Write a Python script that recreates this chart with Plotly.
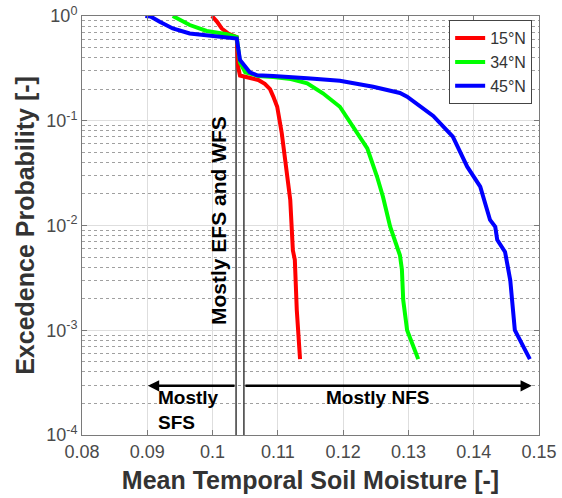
import plotly.graph_objects as go
import numpy as np

# ---- data ----
x_15N = [0.0999, 0.1007, 0.1014, 0.1024, 0.1037, 0.1039, 0.1042, 0.1057, 0.1070, 0.1080,
         0.1088, 0.1093, 0.1099, 0.1106, 0.1111, 0.1114, 0.1119, 0.1123, 0.1126, 0.1129, 0.1134]
p_15N = [1.0, 0.88, 0.76, 0.68, 0.63, 0.33, 0.27, 0.256, 0.245, 0.225,
         0.20, 0.17, 0.136, 0.076, 0.045, 0.0315, 0.0175, 0.0058, 0.0047, 0.00156, 0.00053]

x_34N = [0.0939, 0.0965, 0.0991, 0.1022, 0.1037, 0.1042, 0.1050, 0.1070, 0.1093, 0.1120,
         0.1145, 0.1169, 0.1195, 0.1215, 0.1237, 0.1252, 0.1261, 0.1272, 0.1280, 0.1287,
         0.1290, 0.1292, 0.1298, 0.1315]
p_34N = [1.0, 0.82, 0.72, 0.67, 0.63, 0.36, 0.29, 0.268, 0.262, 0.25,
         0.228, 0.183, 0.136, 0.0877, 0.0545, 0.0292, 0.0188, 0.00975, 0.0068, 0.0052,
         0.0038, 0.00194, 0.001, 0.00053]

x_45N = [0.0897, 0.0905, 0.0919, 0.0939, 0.0965, 0.1001, 0.1037, 0.1042, 0.1057, 0.1068,
         0.1093, 0.1145, 0.1195, 0.1246, 0.1287, 0.1298, 0.1338, 0.1368, 0.1390, 0.1410,
         0.1420, 0.1425, 0.1433, 0.1436, 0.1448, 0.1456, 0.1463, 0.1486]
p_45N = [1.0, 0.99, 0.88, 0.76, 0.68, 0.64, 0.61, 0.38, 0.29, 0.272,
         0.268, 0.254, 0.241, 0.211, 0.184, 0.170, 0.111, 0.0704, 0.0364, 0.0235,
         0.0151, 0.0113, 0.0097, 0.0073, 0.0056, 0.0030, 0.0010, 0.00053]

series_names = ["15°N", "34°N", "45°N"]
series_colors = ["#ff0000", "#00ff00", "#0000ff"]

# threshold lines
thr_x = [0.1036, 0.1048]
thr_top = [0.6, 0.26]

# arrow region bounds
sfs_left = 0.0901
nfs_right = 0.1489
arrow_p = 2.95e-4

x_ticks = [0.08, 0.09, 0.1, 0.11, 0.12, 0.13, 0.14, 0.15]
x_ticktext = ["0.08", "0.09", "0.1", "0.11", "0.12", "0.13", "0.14", "0.15"]
y_ticks = [1e-4, 1e-3, 1e-2, 1e-1, 1]
y_ticktext = ["10<sup>-4</sup>", "10<sup>-3</sup>", "10<sup>-2</sup>", "10<sup>-1</sup>", "10<sup>0</sup>"]

FONT = "Liberation Sans, Arial, Helvetica, sans-serif"

fig = go.Figure()

for tx, tt in zip(thr_x, thr_top):
    fig.add_trace(go.Scatter(x=[tx, tx], y=[tt, 1e-4], mode="lines", showlegend=False,
                             line=dict(color="#3a3a3a", width=1.5), hoverinfo="skip"))

for xs, ps, name, col in zip([x_15N, x_34N, x_45N], [p_15N, p_34N, p_45N], series_names, series_colors):
    fig.add_trace(go.Scatter(x=xs, y=ps, mode="lines", name=name,
                             line=dict(color=col, width=4)))

ly = np.log10(arrow_p)
arrow_style = dict(showarrow=True, arrowhead=2, arrowsize=0.9, arrowwidth=2.5,
                   arrowcolor="black", xref="x", yref="y", axref="x", ayref="y", text="")
annotations = [
    dict(x=sfs_left, y=ly, ax=thr_x[0], ay=ly, **arrow_style),
    dict(x=nfs_right, y=ly, ax=thr_x[1], ay=ly, **arrow_style),
    dict(x=0.0913, y=-3.76, xref="x", yref="y", text="<b>Mostly<br>SFS</b>", showarrow=False,
         xanchor="left", yanchor="middle", align="left",
         font=dict(family=FONT, size=19, color="black")),
    dict(x=0.1252, y=-3.64, xref="x", yref="y", text="<b>Mostly NFS</b>", showarrow=False,
         xanchor="center", yanchor="middle",
         font=dict(family=FONT, size=19, color="black")),
    dict(x=0.1008, y=-1.95, xref="x", yref="y", text="<b>Mostly EFS and WFS</b>", showarrow=False,
         textangle=-90, xanchor="center", yanchor="middle",
         font=dict(family=FONT, size=21, color="black")),
]

shapes = [
    dict(type="line", xref="x", yref="y", x0=sfs_left, x1=sfs_left, y0=ly - 0.05, y1=ly + 0.05,
         line=dict(color="black", width=1.5)),
    dict(type="line", xref="x", yref="y", x0=nfs_right, x1=nfs_right, y0=ly - 0.05, y1=ly + 0.05,
         line=dict(color="black", width=1.5)),
]

axis_common = dict(showline=True, linecolor="#7a7a7a", linewidth=1, mirror="ticks",
                   ticks="inside", ticklen=5, tickcolor="#7a7a7a", automargin=False,
                   gridcolor="#dedede", gridwidth=1, zeroline=False,
                   tickfont=dict(family=FONT, size=18, color="#4a4a4a"))

fig.update_layout(
    width=562, height=498,
    margin=dict(l=82, r=23, t=16, b=63),
    paper_bgcolor="white", plot_bgcolor="white",
    font=dict(family=FONT),
    xaxis=dict(range=[0.08, 0.15], tickvals=x_ticks, ticktext=x_ticktext,
               title=dict(text="<b>Mean Temporal Soil Moisture [-]</b>", standoff=10,
                          font=dict(family=FONT, size=25, color="#333333")),
               **axis_common),
    yaxis=dict(type="log", range=[-4, 0], tickvals=y_ticks, ticktext=y_ticktext,
               title=dict(text="<b>Excedence Probability [-]</b>", standoff=4,
                          font=dict(family=FONT, size=25, color="#333333")),
               minor=dict(dtick="D1", showgrid=True, gridcolor="#a0a0a0", griddash="dot",
                          gridwidth=1, ticks=""),
               **axis_common),
    legend=dict(x=0.985, y=0.99, xanchor="right", yanchor="top",
                bordercolor="#444444", borderwidth=1, bgcolor="white",
                font=dict(family=FONT, size=16, color="#333333"),
                tracegroupgap=0, itemwidth=30),
    annotations=annotations,
    shapes=shapes,
    showlegend=True,
)

fig.write_html("out.html")
